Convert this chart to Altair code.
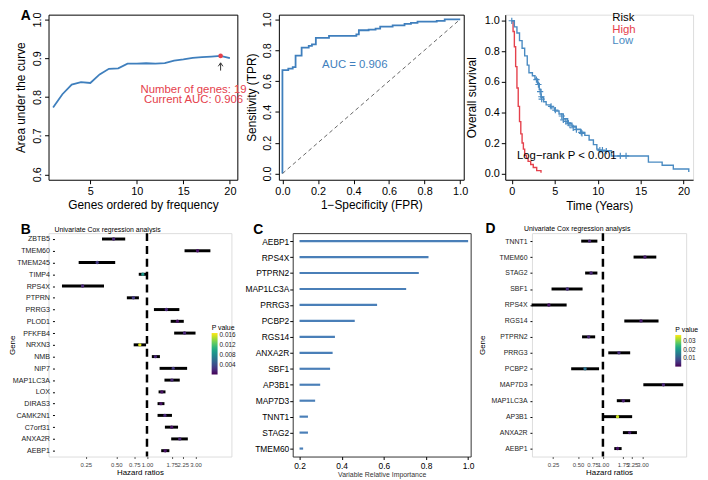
import altair as alt
import pandas as pd

FONT = "Liberation Sans"
BLUE = "#3f7fbd"
KMBLUE = "#4a8bc2"
RED = "#e5414c"

# ---------------- Panel A (left): AUC vs number of genes
a1_n = list(range(1, 21))
a1_auc = [0.7725, 0.807, 0.832, 0.838, 0.836, 0.858, 0.8725, 0.874, 0.886, 0.886,
          0.887, 0.886, 0.8875, 0.894, 0.897, 0.901, 0.9025, 0.904, 0.906, 0.900]
a1_best_n = [19]
a1_best_auc = [0.906]
a1_arrow_y0 = [0.868]
a1_arrow_y1 = [0.888]
a1_text = ["Number of genes: 19", "Current AUC: 0.906"]
a1_text_x = [16.1, 16.1]
a1_text_y = [0.819, 0.792]

# ---------------- Panel A (middle): ROC
roc_fpr = [0.0, 0.0, 0.033, 0.058, 0.074, 0.108, 0.148, 0.166, 0.188, 0.262, 0.416, 0.43,
           0.485, 0.524, 0.55, 0.62, 0.687, 0.723, 0.76, 0.868, 0.913, 1.0]
roc_tpr = [0.0, 0.671, 0.68, 0.69, 0.765, 0.817, 0.827, 0.838, 0.879, 0.892, 0.902, 0.929,
           0.933, 0.94, 0.952, 0.96, 0.97, 0.977, 0.985, 0.99, 1.0, 1.0]
roc_diag = [0.0, 1.0]
roc_label = ["AUC = 0.906"]
roc_label_x = [0.407]
roc_label_y = [0.702]

# ---------------- Panel A (right): Kaplan-Meier
km_high_t = [0, 0.15, 0.3, 0.45, 0.6, 0.75, 0.9, 1.05, 1.2, 1.35, 1.5, 1.7, 1.9, 2.2, 2.5, 2.9, 3.4]
km_high_s = [1.0, 0.93, 0.83, 0.70, 0.56, 0.44, 0.34, 0.26, 0.20, 0.16, 0.12, 0.10, 0.08, 0.06, 0.04, 0.02, 0.005]
km_low_t = [0, 0.3, 0.6, 0.9, 1.2, 1.5, 1.8, 2.0, 2.4, 2.7, 3.0, 3.2, 3.4, 3.7, 4.0, 4.5, 5.0, 5.5,
            6.0, 6.5, 7.0, 7.5, 8.0, 8.5, 9.0, 9.5, 9.9, 10.1, 11.6, 15.9, 17.5, 18.8, 20.6]
km_low_s = [1.0, 0.96, 0.92, 0.87, 0.82, 0.77, 0.71, 0.66, 0.64, 0.62, 0.59, 0.55, 0.50, 0.47, 0.45,
            0.43, 0.41, 0.39, 0.36, 0.33, 0.31, 0.29, 0.27, 0.25, 0.22, 0.19, 0.16, 0.15, 0.115,
            0.075, 0.055, 0.03, 0.01]
km_cens_t = [0, 2.87, 3.1, 3.3, 3.44, 3.48, 4.57, 5.07, 5.82, 6.0, 6.3, 6.58, 6.77, 7.15, 7.52,
             8.09, 8.17, 10.25, 10.55, 11.0, 12.63, 13.3]
km_cens_s = [1.0, 0.615, 0.583, 0.537, 0.503, 0.488, 0.44, 0.415, 0.377, 0.352, 0.341, 0.331,
             0.318, 0.30, 0.288, 0.27, 0.263, 0.154, 0.154, 0.147, 0.116, 0.116]
km_legend_text = ["Risk", "High", "Low"]
km_legend_t = [11.7, 11.7, 11.7]
km_legend_s = [1.02, 0.937, 0.867]
km_p_text = ["Log\u2212rank P < 0.001"]
km_p_t = [0.6]
km_p_s = [0.114]

# ---------------- Panel B: univariate Cox (19 genes)
b_genes = ["ZBTB5", "TMEM60", "TMEM245", "TIMP4", "RPS4X", "PTPRN", "PRRG3", "PLOD1", "PFKFB4",
           "NRXN3", "NMB", "NIP7", "MAP1LC3A", "LOX", "DIRAS3", "CAMK2N1", "C7orf31", "ANXA2R", "AEBP1"]
b_hr = [0.47, 3.14, 0.324, 0.91, 0.233, 0.735, 1.55, 1.99, 2.34, 0.85, 1.21, 1.81, 1.76, 1.40,
        1.37, 1.50, 1.75, 2.10, 1.51]
b_lo = [0.361, 2.34, 0.213, 0.83, 0.146, 0.634, 1.17, 1.71, 1.85, 0.74, 1.116, 1.33, 1.485, 1.30,
        1.27, 1.27, 1.50, 1.73, 1.38]
b_hi = [0.611, 4.2, 0.487, 0.98, 0.378, 0.833, 2.08, 2.30, 3.0, 0.98, 1.34, 2.48, 2.10, 1.52,
        1.485, 1.76, 2.02, 2.52, 1.66]
b_p = [0.002, 0.001, 0.003, 0.009, 0.002, 0.003, 0.002, 0.001, 0.002, 0.016, 0.002, 0.003,
       0.002, 0.001, 0.001, 0.002, 0.001, 0.002, 0.001]

# ---------------- Panel C: variable importance
c_genes = ["AEBP1", "RPS4X", "PTPRN2", "MAP1LC3A", "PRRG3", "PCBP2", "RGS14", "ANXA2R", "SBF1",
           "AP3B1", "MAP7D3", "TNNT1", "STAG2", "TMEM60"]
c_imp = [1.0, 0.812, 0.766, 0.706, 0.568, 0.462, 0.368, 0.357, 0.345, 0.298, 0.274, 0.24, 0.24, 0.217]
c_base = [0.2] * len(c_genes)

# ---------------- Panel D: univariate Cox (14 genes)
d_genes = ["TNNT1", "TMEM60", "STAG2", "SBF1", "RPS4X", "RGS14", "PTPRN2", "PRRG3", "PCBP2",
           "MAP7D3", "MAP1LC3A", "AP3B1", "ANXA2R", "AEBP1"]
d_hr = [0.69, 3.21, 0.72, 0.372, 0.223, 2.88, 0.673, 1.56, 0.609, 5.36, 1.76, 1.50, 2.10, 1.50]
d_lo = [0.547, 2.34, 0.61, 0.24, 0.138, 1.81, 0.56, 1.16, 0.414, 3.07, 1.47, 1.0, 1.74, 1.37]
d_hi = [0.857, 4.4, 0.857, 0.568, 0.365, 4.68, 0.806, 2.13, 0.898, 9.3, 2.13, 2.25, 2.57, 1.68]
d_p = [0.004, 0.003, 0.004, 0.005, 0.002, 0.003, 0.004, 0.005, 0.014, 0.004, 0.003, 0.034, 0.003, 0.002]

hr_ticks = [0.25, 0.5, 0.75, 1.0, 1.75, 2.25, 3.0]
hr_ref = [1.0]


def r_axis(title, fmt, rotate=False, values=None, count=None):
    kw = dict(title=title, format=fmt, grid=False, domain=False,
              tickColor="black", tickSize=4, labelFontSize=11, titleFontSize=12,
              labelColor="black", titleColor="black", titleFontWeight="normal",
              labelPadding=2, titlePadding=3, labelOverlap=False, labelFlush=False)
    if values is not None:
        kw["values"] = values
    if count is not None:
        kw["tickCount"] = count
    if rotate:
        kw.update(labelAngle=-90, labelAlign="center", labelBaseline="bottom", titlePadding=4)
    return alt.Axis(**kw)


def letter(ch, dx, dy):
    return alt.Chart(pd.DataFrame({"t": [ch]})).mark_text(
        fontSize=14, fontWeight="bold", align="left", baseline="middle", color="black"
    ).encode(text="t:N", x=alt.value(dx), y=alt.value(dy))


# ---- A1
a1_df = pd.DataFrame({"n": a1_n, "auc": a1_auc})
xa1 = alt.X("n:Q", scale=alt.Scale(domain=[0.51, 20.8], nice=False, zero=False),
            axis=r_axis("Genes ordered by frequency", "d", values=[5, 10, 15, 20]))
ya1 = alt.Y("auc:Q", scale=alt.Scale(domain=[0.586, 1.0125], nice=False, zero=False),
            axis=r_axis("Area under the curve", ".1f", rotate=True, values=[0.6, 0.7, 0.8, 0.9, 1.0]))
a1_line = alt.Chart(a1_df).mark_line(color=BLUE, strokeWidth=1.8).encode(x=xa1, y=ya1)
a1_pt = alt.Chart(pd.DataFrame({"n": a1_best_n, "auc": a1_best_auc})).mark_point(
    filled=True, color=RED, size=22, opacity=1).encode(x="n:Q", y="auc:Q")
a1_arrow = alt.Chart(pd.DataFrame({"n": a1_best_n, "y0": a1_arrow_y0, "y1": a1_arrow_y1})).mark_rule(
    color="#333333", strokeWidth=1).encode(x="n:Q", y="y0:Q", y2="y1:Q")
a1_head = alt.Chart(pd.DataFrame({"n": a1_best_n, "y1": a1_arrow_y1})).mark_point(
    shape="M-0.6,0.9L0,0L0.6,0.9", filled=False, color="#333333", size=60, strokeWidth=1, opacity=1
).encode(x="n:Q", y="y1:Q")
a1_txt = alt.Chart(pd.DataFrame({"t": a1_text, "x": a1_text_x, "y": a1_text_y})).mark_text(
    color=RED, fontSize=11.5, align="center", baseline="middle").encode(x="x:Q", y="y:Q", text="t:N")
pA1 = alt.layer(a1_line, a1_arrow, a1_head, a1_pt, a1_txt, letter("A", -28, 1)).properties(
    width=191, height=167, view=alt.ViewBackground(stroke="black", strokeWidth=1))

# ---- A2 ROC
roc_df = pd.DataFrame({"fpr": roc_fpr, "tpr": roc_tpr, "i": list(range(len(roc_fpr)))})
xa2 = alt.X("fpr:Q", scale=alt.Scale(domain=[-0.02, 1.02], nice=False, zero=False),
            axis=r_axis("1\u2212Specificity (FPR)", ".1f", count=6))
ya2 = alt.Y("tpr:Q", scale=alt.Scale(domain=[-0.04, 1.03], nice=False, zero=False),
            axis=r_axis("Sensitivity (TPR)", ".1f", rotate=True, count=6))
roc_line = alt.Chart(roc_df).mark_line(interpolate="step-after", color=BLUE, strokeWidth=1.8).encode(
    x=xa2, y=ya2, order="i:Q")
diag = alt.Chart(pd.DataFrame({"fpr": roc_diag, "tpr": roc_diag})).mark_line(
    color="#666666", strokeDash=[4, 3], strokeWidth=1).encode(x="fpr:Q", y="tpr:Q")
roc_txt = alt.Chart(pd.DataFrame({"t": roc_label, "x": roc_label_x, "y": roc_label_y})).mark_text(
    color=BLUE, fontSize=11.5, align="center", baseline="middle").encode(x="x:Q", y="y:Q", text="t:N")
pA2 = alt.layer(roc_line, diag, roc_txt).properties(
    width=187, height=167, view=alt.ViewBackground(stroke="black", strokeWidth=1))

# ---- A3 KM
km_df = pd.concat([
    pd.DataFrame({"t": km_high_t, "s": km_high_s, "risk": "High"}),
    pd.DataFrame({"t": km_low_t, "s": km_low_s, "risk": "Low"}),
])
km_axis = dict(grid=False, domain=True, domainColor="black", tickColor="black", tickSize=4,
               labelFontSize=11, titleFontSize=12, labelColor="black", titleColor="black",
               titleFontWeight="normal", labelOverlap=False, labelFlush=False, labelPadding=2)
xa3 = alt.X("t:Q", scale=alt.Scale(domain=[-0.76, 21.1], nice=False),
            axis=alt.Axis(values=[0, 5, 10, 15, 20], title="Time (Years)", titlePadding=4, **km_axis))
ya3 = alt.Y("s:Q", scale=alt.Scale(domain=[-0.04, 1.04], nice=False, zero=False),
            axis=alt.Axis(tickCount=6, format=".1f", title="Overall survival",
                          titlePadding=6, **km_axis))
km_lines = alt.Chart(km_df).mark_line(interpolate="step-after", strokeWidth=1.4).encode(
    x=xa3, y=ya3,
    color=alt.Color("risk:N", scale=alt.Scale(domain=["High", "Low"], range=[RED, KMBLUE]), legend=None))
km_cens = alt.Chart(pd.DataFrame({"t": km_cens_t, "s": km_cens_s})).mark_point(
    shape="M-1,0L1,0M0,-1L0,1", filled=False, color=KMBLUE, size=40, strokeWidth=1.2, opacity=1
).encode(x="t:Q", y="s:Q")
km_leg = alt.Chart(pd.DataFrame({"txt": km_legend_text, "t": km_legend_t, "s": km_legend_s,
                                 "c": ["k", "High", "Low"]})).mark_text(
    fontSize=11.5, align="left", baseline="middle").encode(
    x="t:Q", y="s:Q", text="txt:N",
    color=alt.Color("c:N", scale=alt.Scale(domain=["k", "High", "Low"], range=["black", RED, KMBLUE]),
                    legend=None))
km_p = alt.Chart(pd.DataFrame({"txt": km_p_text, "t": km_p_t, "s": km_p_s})).mark_text(
    fontSize=11.5, align="left", baseline="middle", color="black").encode(x="t:Q", y="s:Q", text="txt:N")
pA3 = alt.layer(km_lines, km_cens, km_leg, km_p).resolve_scale(color="independent").properties(
    width=190, height=167)


# ---- Forest plots
def forest(genes, hr, lo, hi, p, domain, pdomain, pvalues, pfmt, label_size, letter_ch, lx, ly, tx, ty,
           legx, legy, glen, cname, yoff, title_x):
    df = pd.DataFrame({"gene": genes, "hr": hr, "lo": lo, "hi": hi, cname: p})
    ax_kw = dict(title="Gene", domain=False, tickColor="black", tickSize=2,
                 labelFontSize=label_size, titleFontSize=8, titleFontWeight="normal",
                 labelColor="#222222", titleColor="black", labelPadding=3,
                 titlePadding=4, offset=yoff, labelOverlap=False)
    if title_x is not None:
        ax_kw["titleX"] = title_x
    yenc = alt.Y("gene:N", sort=genes, scale=alt.Scale(type="point", padding=0.5),
                 axis=alt.Axis(**ax_kw))
    xscale = alt.Scale(type="log", domain=domain, nice=False)
    xenc = alt.X("lo:Q", scale=xscale,
                 axis=alt.Axis(values=hr_ticks, format=".2f", title="Hazard ratios", grid=False,
                               domain=False, tickColor="#555555", tickSize=2, labelFontSize=6,
                               labelColor="#444444", titleFontSize=8, titleFontWeight="normal",
                               titleColor="black", labelPadding=3, titlePadding=1, labelFlush=False,
                               labelOverlap=False))
    ref = alt.Chart(pd.DataFrame({"r": hr_ref})).mark_rule(
        color="black", strokeWidth=2.5, strokeDash=[8, 5]).encode(x=alt.X("r:Q", scale=xscale))
    bars = alt.Chart(df).mark_rule(color="black", strokeWidth=3).encode(x=xenc, x2="hi:Q", y=yenc)
    pts = alt.Chart(df).mark_point(filled=True, size=12, opacity=1, shape="circle").encode(
        x="hr:Q", y=alt.Y("gene:N", sort=genes),
        color=alt.Color(f"{cname}:Q", title="P value",
                        scale=alt.Scale(scheme="viridis", domain=pdomain, nice=False),
                        legend=alt.Legend(orient="none", legendX=legx, legendY=legy, values=pvalues,
                                          gradientLength=glen, gradientThickness=6, titleFontSize=7,
                                          titleFontWeight="normal", labelFontSize=6.5, titlePadding=2,
                                          gradientStrokeWidth=0, labelColor="#222222", format=pfmt,
                                          labelOffset=2, padding=0)))
    title_t = alt.Chart(pd.DataFrame({"t": ["Univariate Cox regression analysis"]})).mark_text(
        fontSize=7, align="left", baseline="middle", color="black").encode(
        text="t:N", x=alt.value(tx), y=alt.value(ty))
    return alt.layer(bars, ref, pts, title_t, letter(letter_ch, lx, ly))


# B: plotting range widened (empty margins) so the panel lines up with panel A above
pB = forest(b_genes, b_hr, b_lo, b_hi, b_p, [0.1077, 6.76], [0.0003, 0.0168],
            [0.004, 0.008, 0.012, 0.016], ".3f", 7.2, "B", -28, -3, 6, -3, 165, 92, 42, "pB",
            -6, -38).properties(width=185, height=226)
pD = forest(d_genes, d_hr, d_lo, d_hi, d_p, [0.1393, 10.08], [0.0003, 0.037],
            [0.01, 0.02, 0.03], ".2f", 7, "D", -47, -4, -8, -4, 145, 94, 32, "pD", 0, None).properties(
    width=156, height=226)

# ---- C variable importance
c_df = pd.DataFrame({"gene": c_genes, "imp": c_imp, "base": c_base})
pC_bars = alt.Chart(c_df).mark_rule(color="#4a7fb8", strokeWidth=2.2).encode(
    x=alt.X("base:Q", scale=alt.Scale(domain=[0.1676, 1.012], nice=False, zero=False),
            axis=alt.Axis(values=[0.2, 0.4, 0.6, 0.8, 1.0], format=".1f",
                          title="Variable Relative Importance", grid=False, domain=False,
                          tickColor="black", tickSize=3, labelFontSize=8.5, labelColor="black",
                          titleFontSize=7, titleFontWeight="normal", titleColor="#333333",
                          titlePadding=1, labelOverlap=False)),
    x2="imp:Q",
    y=alt.Y("gene:N", sort=c_genes, scale=alt.Scale(type="point", padding=0.5),
            axis=alt.Axis(title=None, domain=False, tickColor="black", tickSize=3, labelFontSize=8.5,
                          labelColor="black", labelPadding=1, labelOverlap=False)))
pC = alt.layer(pC_bars, letter("C", -40, -3)).properties(
    width=180, height=226, view=alt.ViewBackground(stroke="#333333", strokeWidth=1))

top = alt.hconcat(pA1, pA2, pA3, spacing=42, bounds="flush")
bottom = alt.hconcat(pB, pC, pD, spacing=62, bounds="flush").resolve_scale(color="independent")

chart = alt.vconcat(top, bottom, spacing=9).properties(
    padding={"left": 0, "top": -3, "right": 0, "bottom": 0}).configure_view(
    stroke=None).configure_axis(labelFont=FONT, titleFont=FONT, labelOverlap=False).configure_text(
    font=FONT).configure_legend(labelFont=FONT, titleFont=FONT).configure(font=FONT)

chart.save("out.html", embed_options={"renderer": "svg", "actions": False})
